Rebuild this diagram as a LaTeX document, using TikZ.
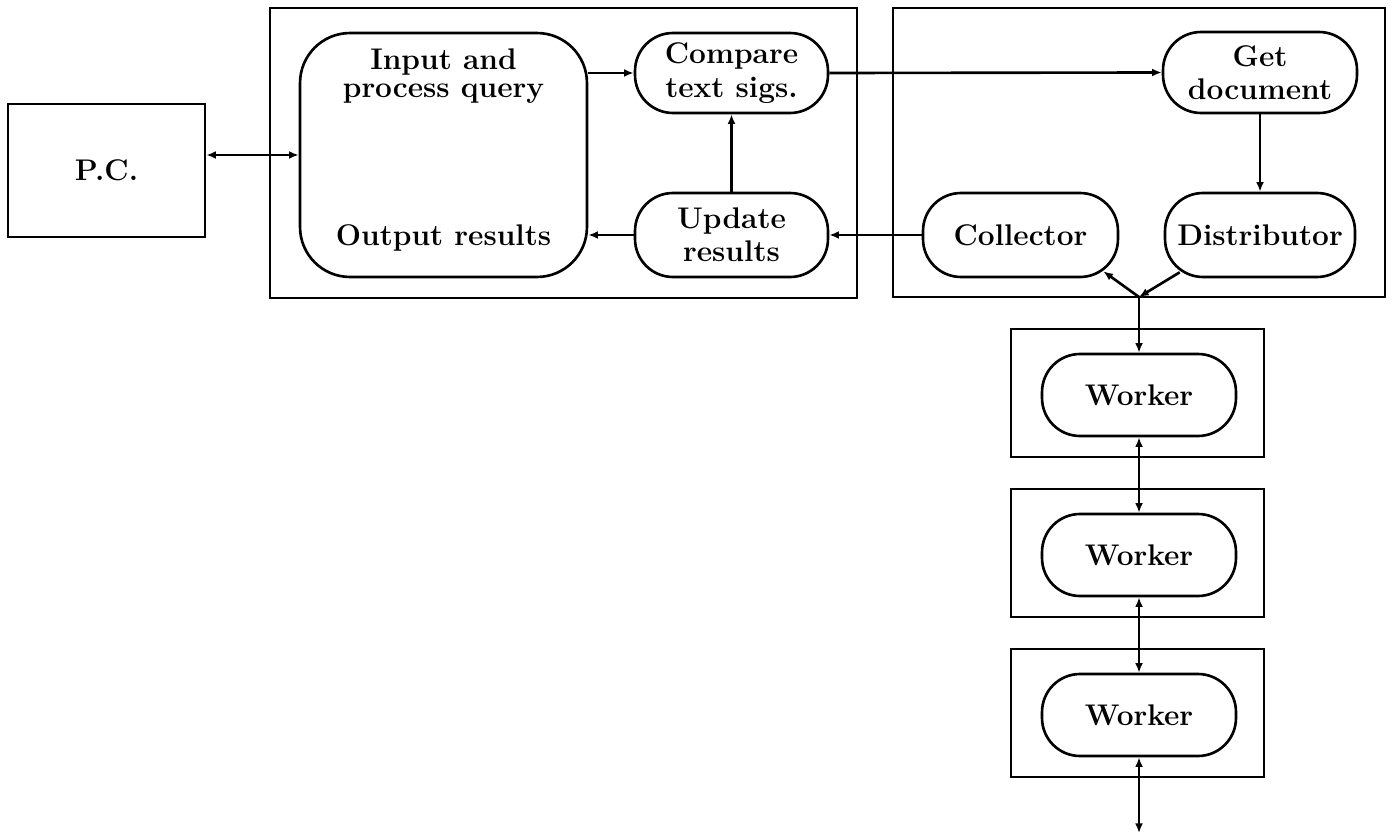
\documentclass[tikz,border=0pt]{standalone}
\usepackage{amsmath}
\usetikzlibrary{arrows.meta}

\begin{document}
\begin{tikzpicture}[x=0.02cm,y=-0.02cm,line width=1.5pt,
  txt/.style={font=\fontsize{17}{19}\selectfont\bfseries,align=center,inner sep=0pt},
  pcbox/.style={draw,rectangle,inner sep=0pt,txt},
  pill/.style={draw,rectangle,rounded corners=0.76cm,inner sep=0pt,txt},
  tip/.tip={Latex[length=5.5pt,width=4.5pt]},
  ar/.style={-tip},
  dar/.style={tip-tip}]

\useasboundingbox (0,0) rectangle (1393,835);

% frames
\draw (270,8) rectangle (857,298) ;
\draw (893,8) rectangle (1385,297) ;

\node [pcbox,minimum width=3.94cm,minimum height=2.66cm] (pc) at (106.5,170.5) {P.C.} ;

% query side
\node [pill,rounded corners=1cm,minimum width=5.74cm,minimum height=4.88cm] (inp) at (443.5,155) {} ;
\node [txt] (inptxt) at (443.5,76) {Input and\\[-3pt]process query} ;
\node [txt] (outtxt) at (443.5,238) {Output results} ;
\node [pill,minimum width=3.86cm,minimum height=1.6cm] (cmp) at (731.5,73) {Compare\\text sigs.} ;
\node [pill,minimum width=3.86cm,minimum height=1.68cm] (upd) at (731.5,235) {Update\\results} ;

% document side
\node [pill,minimum width=3.88cm,minimum height=1.62cm] (getdoc) at (1260,72.5) {Get\\document} ;
\node [pill,minimum width=3.9cm,minimum height=1.68cm] (coll) at (1020.5,235) {Collector} ;
\node [pill,minimum width=3.8cm,minimum height=1.68cm] (dist) at (1260,235) {Distributor} ;
\coordinate (junc) at (1139,297) ;

% workers
\foreach \i/\y in {1/395,2/555,3/715} {
  \draw (1011,\y-66) rectangle (1264,\y+62) ;
  \node [pill,minimum width=3.88cm,minimum height=1.64cm] (w\i) at (1139,\y) {Worker} ;
}
\coordinate (wend) at (1139,833) ;

\draw [dar] (inp.west -| pc.east) -- (inp.west) ;
\draw [ar] (cmp.west -| inp.east) -- (cmp.west) ;
\draw [ar] (cmp.east) -- (getdoc.west) ;
\draw [ar] (getdoc.south) -- (dist.north) ;
\draw [ar] (coll.west) -- (upd.east) ;
\draw [ar] (upd.west) -- (upd.west -| inp.east) ;
\draw [ar] (upd.north) -- (cmp.south) ;
\draw [ar] ([shift={(16,-6)}]dist.south west) -- (junc) ;
\draw [ar] (junc) -- ([shift={(-16,-7)}]coll.south east) ;
\draw [ar] (junc) -- (w1.north) ;
\draw [dar] (w1.south) -- (w2.north) ;
\draw [dar] (w2.south) -- (w3.north) ;
\draw [dar] (w3.south) -- (wend) ;

\end{tikzpicture}
\end{document}
